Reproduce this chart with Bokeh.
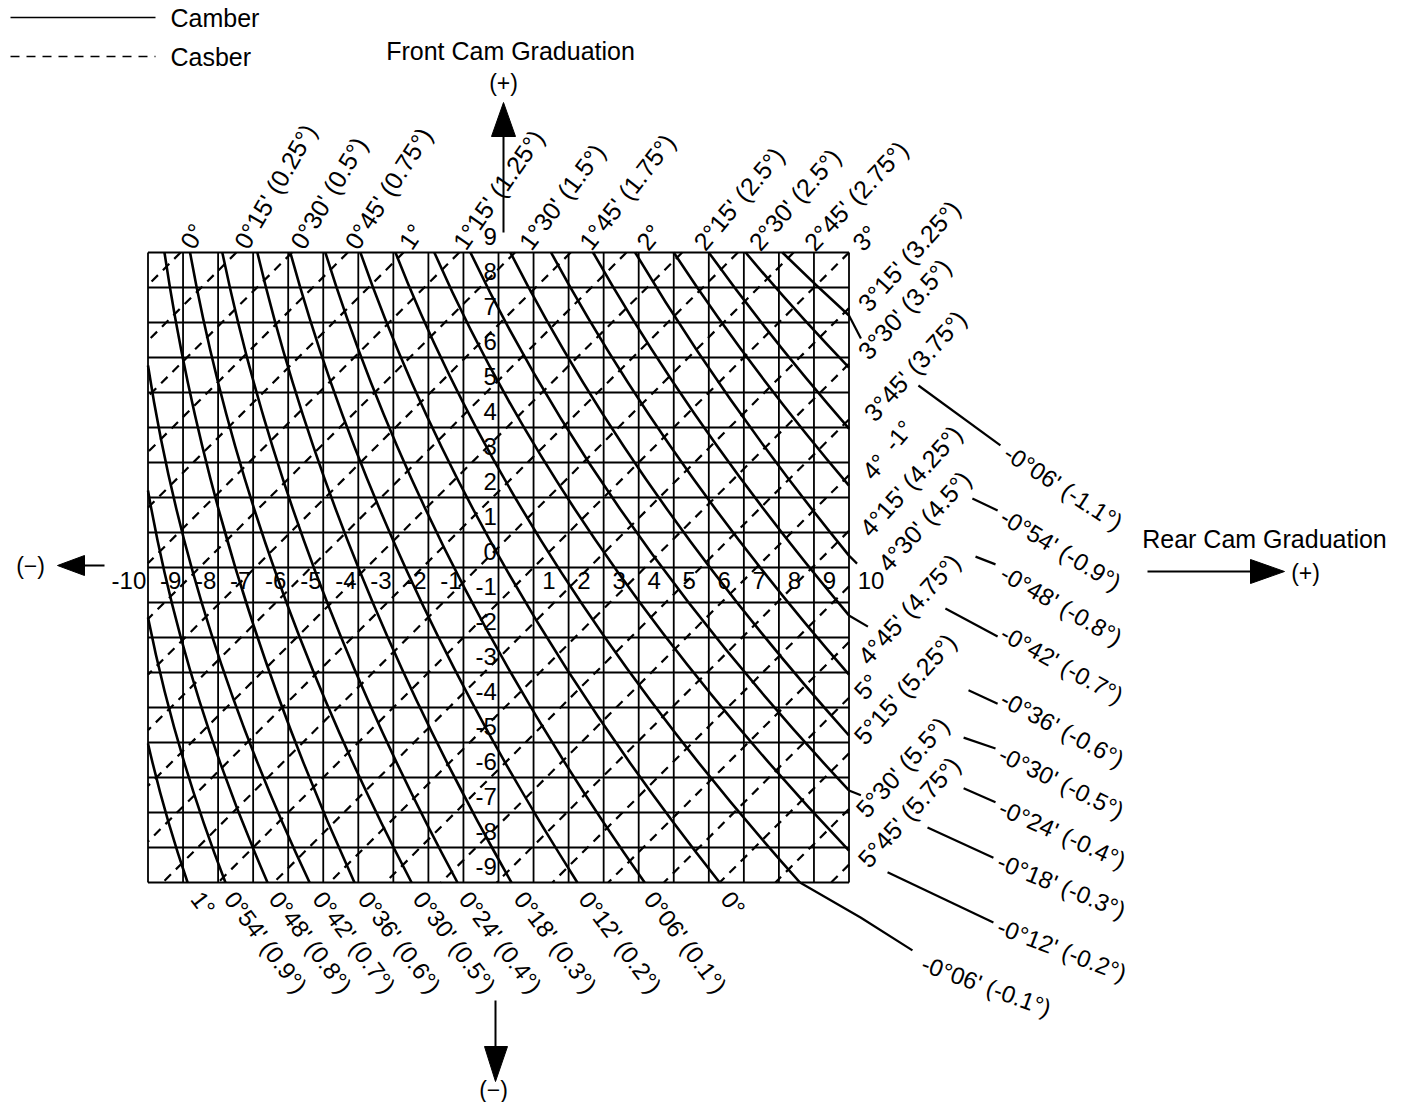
import numpy as np
from bokeh.plotting import figure
from bokeh.models import ColumnDataSource, Range1d
from bokeh.core.properties import value
from bokeh.embed import file_html
from bokeh.resources import INLINE

# ---------------- data (graduation units: x = rear cam, y = front cam) ----------------
grid_x = list(range(-10, 11))
grid_y = list(range(-9, 10))

x_tick_vals = [-10, -9, -8, -7, -6, -5, -4, -3, -2, -1, 1, 2, 3, 4, 5, 6, 7, 8, 9, 10]
y_tick_vals = [9, 8, 7, 6, 5, 4, 3, 2, 1, 0, -1, -2, -3, -4, -5, -6, -7, -8, -9]

# camber (solid) curves: entry point, a middle point, exit point
camber_vals = [1.0, 0.9, 0.8, 0.7, 0.6, 0.5, 0.4, 0.3, 0.2, 0.1, 0.0,
               -0.1, -0.2, -0.3, -0.4, -0.5, -0.6, -0.7, -0.8, -0.9, -1.0, -1.1]
camber_start_x = [-10, -10, -10, -10, -9.53, -8.8, -7.88, -6.88, -5.94, -4.94, -3.94,
                  -2.94, -1.83, -0.80, 0.34, 1.5, 2.7, 3.9, 5.0, 6.0, 7.05, 8.1]
camber_start_y = [-5.03, -1.43, 2.2, 5.77, 9, 9, 9, 9, 9, 9, 9,
                  9, 9, 9, 9, 9, 9, 9, 9, 9, 9, 9]
camber_mid_x = [-9.49, -9.07, -8.66, -8.28, -7.51, -6.41, -5.27, -4.0, -2.66, -1.27, 0.19,
                1.7, 2.99, 3.72, 4.5, 5.25, 5.99, 6.71, 7.34, 7.9, 8.47, 9.03]
camber_mid_y = [-7.02, -5.22, -3.4, -1.62, 0, 0, 0, 0, 0, 0, 0,
                0, 0.46, 1.31, 2.1, 2.97, 3.82, 4.67, 5.67, 6.49, 7.36, 8.1]
camber_end_x = [-8.87, -7.79, -6.59, -5.39, -4.11, -2.48, -1.17, 0.37, 2.25, 4.17, 6.31,
                8.6, 10, 10, 10, 10, 10, 10, 10, 10, 10, 10]
camber_end_y = [-9, -9, -9, -9, -9, -9, -9, -9, -9, -9, -9,
                -9, -8.09, -6.37, -4.8, -3.06, -1.37, 0.34, 2.34, 3.97, 5.71, 7.2]

# continuation of the -0.1 curve outside the grid
ext_x = [8.6, 10.33, 11.81]
ext_y = [-9.0, -10.0, -10.94]

# short overshoots of camber curves past the right edge
over_x0 = [10.0, 10.0, 10.0, 10.0]
over_y0 = [7.2, 0.34, -1.37, -6.37]
over_x1 = [10.34, 10.23, 10.54, 10.34]
over_y1 = [6.54, 0.11, -1.69, -6.51]

# leader segments for the right-hand camber labels
leader_x0 = [11.98, 13.52, 13.61, 12.75, 13.41, 13.27, 13.27, 12.24, 11.10]
leader_y0 = [5.20, 1.97, 0.31, -1.17, -3.51, -4.86, -6.31, -7.43, -8.71]
leader_x1 = [14.32, 14.24, 14.18, 14.24, 14.24, 14.18, 14.18, 14.12, 14.12]
leader_y1 = [3.49, 1.63, 0.09, -1.97, -3.89, -5.17, -6.71, -8.29, -10.14]

camber_bottom_labels = ["1°", "0°54' (0.9°)", "0°48' (0.8°)", "0°42' (0.7°)", "0°36' (0.6°)",
                        "0°30' (0.5°)", "0°24' (0.4°)", "0°18' (0.3°)", "0°12' (0.2°)",
                        "0°06' (0.1°)", "0°"]
camber_bottom_lx = [-8.62, -7.67, -6.39, -5.14, -3.85, -2.28, -0.97, 0.6, 2.45, 4.31, 6.5]
camber_right_labels = ["-0°06' (-1.1°)", "-0°54' (-0.9°)", "-0°48' (-0.8°)", "-0°42' (-0.7°)",
                       "-0°36' (-0.6°)", "-0°30' (-0.5°)", "-0°24' (-0.4°)", "-0°18' (-0.3°)",
                       "-0°12' (-0.2°)", "-0°06' (-0.1°)"]
camber_right_lx = [14.49, 14.38, 14.38, 14.38, 14.38, 14.32, 14.32, 14.27, 14.27, 12.1]
camber_right_ly = [3.34, 1.51, -0.11, -1.83, -3.71, -5.29, -6.83, -8.37, -10.23, -11.29]
camber_right_ang = [-33, -31, -30, -29, -28, -26, -24, -22, -21, -20]

# caster (dashed) lines: 45 deg lines, crossing the top edge (0..3 deg) or right edge (3.25..5.75 deg)
caster_top_labels = ["0°", "0°15' (0.25°)", "0°30' (0.5°)", "0°45' (0.75°)", "1°", "1°15' (1.25°)",
                     "1°30' (1.5°)", "1°45' (1.75°)", "2°", "2°15' (2.5°)", "2°30' (2.5°)",
                     "2°45' (2.75°)", "3°"]
caster_top_x = [-9.07, -7.48, -5.89, -4.30, -2.71, -1.12, 0.47, 2.06, 3.65, 5.24, 6.83, 8.42, 10.0]
caster_top_lx = [-8.9, -7.36, -5.76, -4.22, -2.68, -1.14, 0.74, 2.45, 4.08, 5.71, 7.28, 8.85, 10.22]
caster_top_ang = [60, 60, 59, 57, 56, 55, 53, 52, 51, 50, 49, 47, 46]
caster_right_labels = ["3°15' (3.25°)", "3°30' (3.5°)", "3°45' (3.75°)", "4°", "4°15' (4.25°)",
                       "4°30' (4.5°)", "4°45' (4.75°)", "5°", "5°15' (5.25°)", "5°30' (5.5°)",
                       "5°45' (5.75°)"]
caster_right_y = [7.41, 5.82, 4.23, 2.64, 1.05, -0.54, -2.13, -3.72, -5.31, -6.90, -8.49]
caster_right_lx = [10.39, 10.39, 10.56, 10.5, 10.44, 10.96, 10.39, 10.27, 10.27, 10.33, 10.39]
caster_right_ly = [7.43, 6.06, 4.29, 2.63, 1.0, 0.0, -2.66, -3.66, -4.94, -7.03, -8.46]

# ---------------- figure ----------------
XMIN, XMAX, YMIN, YMAX = -10, 10, -9, 9
ux = lambda px: (px - 498.0) / 35.05
uy = lambda py: (567.0 - py) / 35.0
W, H = 1392, 1102

p = figure(width=W, height=H, output_backend="svg", toolbar_location=None,
           x_range=Range1d(ux(0), ux(W)), y_range=Range1d(uy(H), uy(0)),
           min_border=0)
p.axis.visible = False
p.grid.visible = False
p.outline_line_color = None
p.background_fill_color = "white"
p.border_fill_color = "white"

FONT = value("Liberation Sans")
INK = "#000000"

# grid
p.multi_line(xs=[[gx, gx] for gx in grid_x], ys=[[YMIN, YMAX] for _ in grid_x],
             line_color=INK, line_width=1.8)
p.multi_line(xs=[[XMIN, XMAX] for _ in grid_y], ys=[[gy, gy] for gy in grid_y],
             line_color=INK, line_width=1.8)

# caster dashed lines
cx0, cy0, cx1, cy1 = [], [], [], []
for tx in caster_top_x:
    cx0.append(tx); cy0.append(YMAX)
for ry in caster_right_y:
    cx0.append(XMAX); cy0.append(ry)
for x0, y0 in zip(list(cx0), list(cy0)):
    d = min(x0 - XMIN, y0 - YMIN)
    cx1.append(x0 - d); cy1.append(y0 - d)
p.multi_line(xs=[[a, b] for a, b in zip(cx0, cx1)], ys=[[a, b] for a, b in zip(cy0, cy1)],
             line_color=INK, line_width=2.2, line_dash="9 7")

# camber curves (quadratic through entry, middle and exit)
sx, sy = np.array(camber_start_x, float), np.array(camber_start_y, float)
mx, my = np.array(camber_mid_x, float), np.array(camber_mid_y, float)
ex, ey = np.array(camber_end_x, float), np.array(camber_end_y, float)
ctrl_x = 2 * mx - (sx + ex) / 2
ctrl_y = 2 * my - (sy + ey) / 2
p.quadratic(x0=sx, y0=sy, x1=ex, y1=ey, cx=ctrl_x, cy=ctrl_y, line_color=INK, line_width=2.6)
p.line(ext_x, ext_y, line_color=INK, line_width=2.2)
p.segment(x0=over_x0, y0=over_y0, x1=over_x1, y1=over_y1, line_color=INK, line_width=2.2)
p.segment(x0=leader_x0, y0=leader_y0, x1=leader_x1, y1=leader_y1, line_color=INK, line_width=2.2)


def txt(xs, ys, texts, size, angle=0, align="center", baseline="middle"):
    n = len(texts)
    ang = angle if isinstance(angle, list) else [angle] * n
    src = ColumnDataSource(dict(x=xs, y=ys, text=texts, a=ang))
    p.text(x="x", y="y", text="text", angle="a", angle_units="deg", source=src,
           text_font=FONT, text_font_size=value(size), text_align=align,
           text_baseline=baseline, text_color=INK)


# tick labels
neg = [v for v in x_tick_vals if v < 0]
pos = [v for v in x_tick_vals if v > 0]
txt([v - 0.05 for v in neg], [-0.38] * len(neg), [str(v) for v in neg], "24px", align="right")
txt([v + 0.25 for v in pos], [-0.38] * len(pos), [str(v) for v in pos], "24px", align="left")
txt([-0.05] * len(y_tick_vals), [v + 0.45 for v in y_tick_vals], [str(v) for v in y_tick_vals],
    "24px", align="right")

# caster labels
txt(caster_top_lx, [uy(246)] * len(caster_top_lx), caster_top_labels,
    "25px", angle=caster_top_ang, align="left")
txt(caster_right_lx, caster_right_ly, caster_right_labels,
    "25px", angle=48, align="left")

# camber labels
txt(camber_bottom_lx, [uy(894)] * len(camber_bottom_lx), camber_bottom_labels, "24px",
    angle=-53, align="left")
txt(camber_right_lx, camber_right_ly, camber_right_labels, "24px", angle=camber_right_ang,
    align="left")
txt([ux(888)], [uy(447)], ["-1°"], "24px", angle=50, align="left")

# axis arrows
ax_top = ux(503)
ax_bot = ux(495)
p.line([ax_top, ax_top], [uy(232), uy(130)], line_color=INK, line_width=2)
p.line([ax_bot, ax_bot], [uy(1000), uy(1050)], line_color=INK, line_width=2)
p.line([ux(80), ux(104)], [uy(565), uy(565)], line_color=INK, line_width=2)
p.line([ux(1147), ux(1255)], [uy(571), uy(571)], line_color=INK, line_width=2)
heads_x = [[ux(503), ux(491), ux(515)], [ux(495), ux(484), ux(507)],
           [ux(57), ux(84), ux(84)], [ux(1284), ux(1250), ux(1250)]]
heads_y = [[uy(102), uy(136), uy(136)], [uy(1081), uy(1046), uy(1046)],
           [uy(565), uy(555), uy(575)], [uy(571), uy(559), uy(583)]]
p.patches(heads_x, heads_y, fill_color=INK, line_color=INK)

txt([ux(510)], [uy(50)], ["Front Cam Graduation"], "25px")
txt([ux(503)], [uy(82)], ["(+)"], "23px")
txt([ux(493)], [uy(1089)], ["(−)"], "23px")
txt([ux(30)], [uy(565)], ["(−)"], "23px")
txt([ux(1264)], [uy(538)], ["Rear Cam Graduation"], "25px")
txt([ux(1305)], [uy(572)], ["(+)"], "23px")

# legend
p.line([ux(10), ux(155)], [uy(17), uy(17)], line_color=INK, line_width=1.6)
p.line([ux(10), ux(155)], [uy(56), uy(56)], line_color=INK, line_width=1.6, line_dash="9 7")
txt([ux(170)], [uy(17)], ["Camber"], "25px", align="left")
txt([ux(170)], [uy(56)], ["Casber"], "25px", align="left")

open("out.html", "w").write(file_html(p, INLINE))
